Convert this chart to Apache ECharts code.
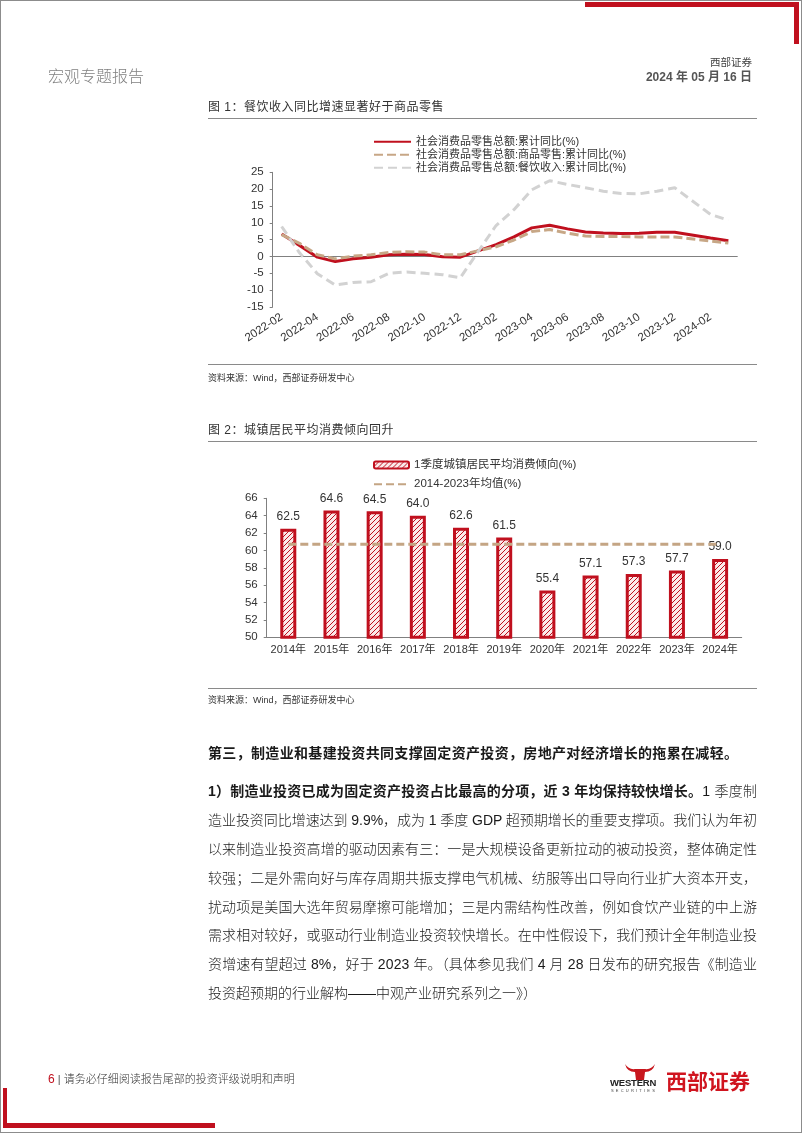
<!DOCTYPE html>
<html><head><meta charset="utf-8">
<script src="https://cdn.jsdelivr.net/npm/echarts/dist/echarts.min.js"></script>
<style>
html,body{margin:0;padding:0;background:#fff;}
#page{position:relative;width:802px;height:1133px;overflow:hidden;background:#fff;font-family:"Liberation Sans",Arial,"Noto Sans CJK SC",sans-serif;color:#222;}
#frame{position:absolute;left:0;top:0;width:802px;height:1133px;box-sizing:border-box;border:1px solid #8c8c8c;pointer-events:none;}
#chart{position:absolute;left:0;top:0;width:802px;height:1133px;}
.abs{position:absolute;white-space:nowrap;}
.rule{position:absolute;left:208px;width:549px;height:0;border-top:1.5px solid #8a8a8a;}
.cap{font-size:12px;color:#333;letter-spacing:0.5px;line-height:16px;}
.src{font-size:9px;color:#333;line-height:12px;}
.bl{position:absolute;left:208px;white-space:nowrap;font-size:14px;line-height:20px;color:#1a1a1a;font-weight:300;}
.bl b{font-weight:bold;}
.red{position:absolute;background:#C0101E;}
</style></head>
<body>
<div id="page">
  <div id="chart"></div>
  <div class="red" style="left:585px;top:2px;width:214px;height:5px;"></div>
  <div class="red" style="left:794px;top:2px;width:5px;height:42px;"></div>
  <div class="red" style="left:3px;top:1088px;width:4px;height:40px;"></div>
  <div class="red" style="left:3px;top:1123px;width:212px;height:5px;"></div>

  <div class="abs" style="left:48px;top:63px;font-size:16px;color:#808080;font-weight:300;letter-spacing:0px;">宏观专题报告</div>
  <div class="abs" style="right:50px;top:54px;font-size:10.5px;color:#444;">西部证券</div>
  <div class="abs" style="right:50px;top:67px;font-size:12px;color:#555;font-weight:bold;">2024 年 05 月 16 日</div>

  <div class="abs cap" style="left:208px;top:99px;">图 1：餐饮收入同比增速显著好于商品零售</div>
  <div class="rule" style="top:117.5px;"></div>
  <div class="rule" style="top:363.5px;"></div>
  <div class="abs src" style="left:208px;top:372px;">资料来源：Wind，西部证券研发中心</div>

  <div class="abs cap" style="left:208px;top:422px;">图 2：城镇居民平均消费倾向回升</div>
  <div class="rule" style="top:441px;"></div>
  <div class="rule" style="top:687.5px;"></div>
  <div class="abs src" style="left:208px;top:694px;">资料来源：Wind，西部证券研发中心</div>

  <div class="bl" data-w="530" style="top:743px;font-weight:bold;">第三，制造业和基建投资共同支撑固定资产投资，房地产对经济增长的拖累在减轻。</div>
  <div class="bl" data-w="549" style="top:781px;"><b>1）制造业投资已成为固定资产投资占比最高的分项，近 3 年均保持较快增长。</b>1 季度制</div>
  <div class="bl" data-w="549" style="top:810px;">造业投资同比增速达到 9.9%，成为 1 季度 GDP 超预期增长的重要支撑项。我们认为年初</div>
  <div class="bl" data-w="549" style="top:839px;">以来制造业投资高增的驱动因素有三：一是大规模设备更新拉动的被动投资，整体确定性</div>
  <div class="bl" data-w="549" style="top:867.5px;">较强；二是外需向好与库存周期共振支撑电气机械、纺服等出口导向行业扩大资本开支，</div>
  <div class="bl" data-w="549" style="top:896.5px;">扰动项是美国大选年贸易摩擦可能增加；三是内需结构性改善，例如食饮产业链的中上游</div>
  <div class="bl" data-w="549" style="top:925px;">需求相对较好，或驱动行业制造业投资较快增长。在中性假设下，我们预计全年制造业投</div>
  <div class="bl" data-w="549" style="top:954px;">资增速有望超过 8%，好于 2023 年。（具体参见我们 4 月 28 日发布的研究报告《制造业</div>
  <div class="bl" style="top:983px;">投资超预期的行业解构——中观产业研究系列之一》）</div>

  <div class="abs" style="left:48px;top:1072px;font-size:11px;color:#333;line-height:14px;font-weight:300;"><b style="color:#C0101E;font-size:12px;">6</b><span style="color:#555;"> | </span>请务必仔细阅读报告尾部的投资评级说明和声明</div>

  <svg class="abs" style="left:624px;top:1063px;" width="32" height="18" viewBox="0 0 32 18">
    <path d="M1 1 Q3 9 11 9 L12 17 L20 17 L21 9 Q29 9 31 1 Q27 7 21 6 L11 6 Q5 7 1 1 Z" fill="#C8161D"/>
  </svg>
  <div class="abs" style="left:610px;top:1077px;font-size:9.5px;font-weight:bold;color:#222;letter-spacing:-0.2px;line-height:11px;">WESTERN</div>
  <div class="abs" style="left:611px;top:1088px;font-size:4px;color:#444;letter-spacing:2.2px;line-height:5px;">SECURITIES</div>
  <div class="abs" style="left:666px;top:1069px;font-size:21px;font-weight:bold;color:#D0141F;line-height:26px;letter-spacing:0px;">西部证券</div>

  <div id="frame"></div>
</div>
<script>
// ---------- Chart 1 data ----------
var months = ['2022-02','2022-03','2022-04','2022-05','2022-06','2022-07','2022-08','2022-09','2022-10','2022-11','2022-12',
              '2023-01','2023-02','2023-03','2023-04','2023-05','2023-06','2023-07','2023-08','2023-09','2023-10','2023-11','2023-12',
              '2024-01','2024-02','2024-03'];
var retailTotal    = [6.7, 3.3, -0.2, -1.5, -0.7, -0.2, 0.5, 0.7, 0.6, -0.1, -0.2, null, 3.5, 5.8, 8.5, 9.3, 8.2, 7.3, 7.0, 6.8, 6.9, 7.2, 7.2, null, 5.5, 4.7];
var retailGoods    = [6.5, 3.9, 0.5, -0.7, 0.1, 0.5, 1.2, 1.4, 1.3, 0.5, 0.5, null, 2.9, 4.9, 7.4, 8.0, 6.9, 6.1, 5.9, 5.9, 5.8, 5.8, 5.8, null, 4.6, 4.0];
var retailCatering = [8.9, 1.1, -5.1, -8.5, -7.7, -7.5, -5.0, -4.6, -5.0, -5.4, -6.3, null, 9.2, 13.9, 19.8, 22.5, 21.4, 20.4, 19.4, 18.7, 18.6, 19.4, 20.4, null, 12.5, 10.8];
var names1 = ['社会消费品零售总额:累计同比(%)', '社会消费品零售总额:商品零售:累计同比(%)', '社会消费品零售总额:餐饮收入:累计同比(%)'];

// ---------- Chart 2 data ----------
var years = ['2014年','2015年','2016年','2017年','2018年','2019年','2020年','2021年','2022年','2023年','2024年'];
var propensity = [62.5, 64.6, 64.5, 64.0, 62.6, 61.5, 55.4, 57.1, 57.3, 57.7, 59.0];
var avgLine = [60.7, 60.7, 60.7, 60.7, 60.7, 60.7, 60.7, 60.7, 60.7, 60.7, 60.7];
var names2 = ['1季度城镇居民平均消费倾向(%)', '2014-2023年均值(%)'];

// hatch pattern
var pc = document.createElement('canvas');
pc.width = 5; pc.height = 5;
var g = pc.getContext('2d');
g.fillStyle = '#fbeaea'; g.fillRect(0,0,5,5);
g.strokeStyle = '#C0101E'; g.lineWidth = 1;
g.beginPath();
g.moveTo(0,5); g.lineTo(5,0);
g.moveTo(-1,1); g.lineTo(1,-1);
g.moveTo(4,6); g.lineTo(6,4);
g.stroke();
var hatch = {image: pc, repeat: 'repeat'};

var FF = '"Liberation Sans", Arial, "Noto Sans CJK SC", sans-serif';
var AX = '#808080';
var noSym = {opacity: 0};

var chart = echarts.init(document.getElementById('chart'), null, {renderer: 'canvas'});
chart.setOption({
  animation: false,
  textStyle: {fontFamily: FF},
  grid: [
    {left: 272.7, top: 172.3, width: 464.6, height: 134.7},
    {left: 266.7, top: 498.3, width: 475, height: 139}
  ],
  legend: [
    {data: [{name: names1[0], itemStyle: noSym}, {name: names1[1], itemStyle: noSym}, {name: names1[2], itemStyle: noSym}],
     orient: 'vertical', left: 373, top: 135.5, padding: 0, itemWidth: 37, itemHeight: 10, itemGap: 0.5,
     textStyle: {fontSize: 11, color: '#333', lineHeight: 12.5, fontFamily: FF}},
    {data: [names2[0], {name: names2[1], itemStyle: noSym}],
     orient: 'vertical', left: 373, top: 458, padding: 0, itemWidth: 35, itemHeight: 7, itemGap: 5.3,
     textStyle: {fontSize: 11.5, color: '#333', lineHeight: 14, fontFamily: FF}}
  ],
  xAxis: [
    {gridIndex: 0, type: 'category', data: months, boundaryGap: true,
     axisLine: {onZero: true, lineStyle: {color: AX, width: 1}},
     axisTick: {inside: true, length: 3, interval: 1, lineStyle: {color: AX}},
     axisLabel: {show: false}},
    {gridIndex: 0, type: 'category', data: months, boundaryGap: true, position: 'bottom',
     axisLine: {show: false, onZero: false}, axisTick: {show: false},
     axisLabel: {interval: 1, rotate: 33, fontSize: 11.5, color: '#333', margin: 9}},
    {gridIndex: 1, type: 'category', data: years, boundaryGap: true,
     axisLine: {lineStyle: {color: AX, width: 1}},
     axisTick: {inside: true, length: 3, lineStyle: {color: AX}},
     axisLabel: {interval: 0, fontSize: 11, color: '#333', margin: 7}}
  ],
  yAxis: [
    {gridIndex: 0, type: 'value', min: -15, max: 25, interval: 5,
     axisLine: {show: true, lineStyle: {color: AX}},
     axisTick: {show: true, length: 3, lineStyle: {color: AX}},
     splitLine: {show: false},
     axisLabel: {fontSize: 11.5, color: '#333', margin: 9}},
    {gridIndex: 1, type: 'value', min: 50, max: 66, interval: 2,
     axisLine: {show: true, lineStyle: {color: AX}},
     axisTick: {show: true, length: 3, lineStyle: {color: AX}},
     splitLine: {show: false},
     axisLabel: {fontSize: 11.5, color: '#333', margin: 9}}
  ],
  series: [
    {name: names1[0], type: 'line', xAxisIndex: 0, yAxisIndex: 0, data: retailTotal, connectNulls: true,
     symbol: 'none', lineStyle: {color: '#C0101E', width: 3}, itemStyle: {color: '#C0101E'}},
    {name: names1[1], type: 'line', xAxisIndex: 0, yAxisIndex: 0, data: retailGoods, connectNulls: true,
     symbol: 'none', lineStyle: {color: '#C7A786', width: 3, type: [9, 4]}, itemStyle: {color: '#C7A786'}},
    {name: names1[2], type: 'line', xAxisIndex: 0, yAxisIndex: 0, data: retailCatering, connectNulls: true,
     symbol: 'none', lineStyle: {color: '#D2D2D2', width: 3, type: [9, 5]}, itemStyle: {color: '#D2D2D2'}},
    {name: names2[0], type: 'bar', xAxisIndex: 2, yAxisIndex: 1, data: propensity, barWidth: 16,
     itemStyle: {color: hatch, borderColor: '#C0101E', borderWidth: 3},
     label: {show: true, position: 'top', distance: 6, fontSize: 12, color: '#333',
             formatter: function (p) { return p.value.toFixed(1); }}},
    {name: names2[1], type: 'line', xAxisIndex: 2, yAxisIndex: 1, data: avgLine,
     symbol: 'none', lineStyle: {color: '#C4A584', width: 3, type: [8, 4]}, itemStyle: {color: '#C4A584'}, z: 3}
  ]
});

function fitLines() {
  document.querySelectorAll('.bl[data-w]').forEach(function (el) {
    el.style.letterSpacing = '0px';
    var target = +el.dataset.w;
    var w = el.getBoundingClientRect().width;
    var n = el.textContent.length;
    el.style.letterSpacing = ((target - w) / (n - 1)) + 'px';
  });
}
fitLines();
if (document.fonts && document.fonts.ready) document.fonts.ready.then(fitLines);
</script>
</body></html>
